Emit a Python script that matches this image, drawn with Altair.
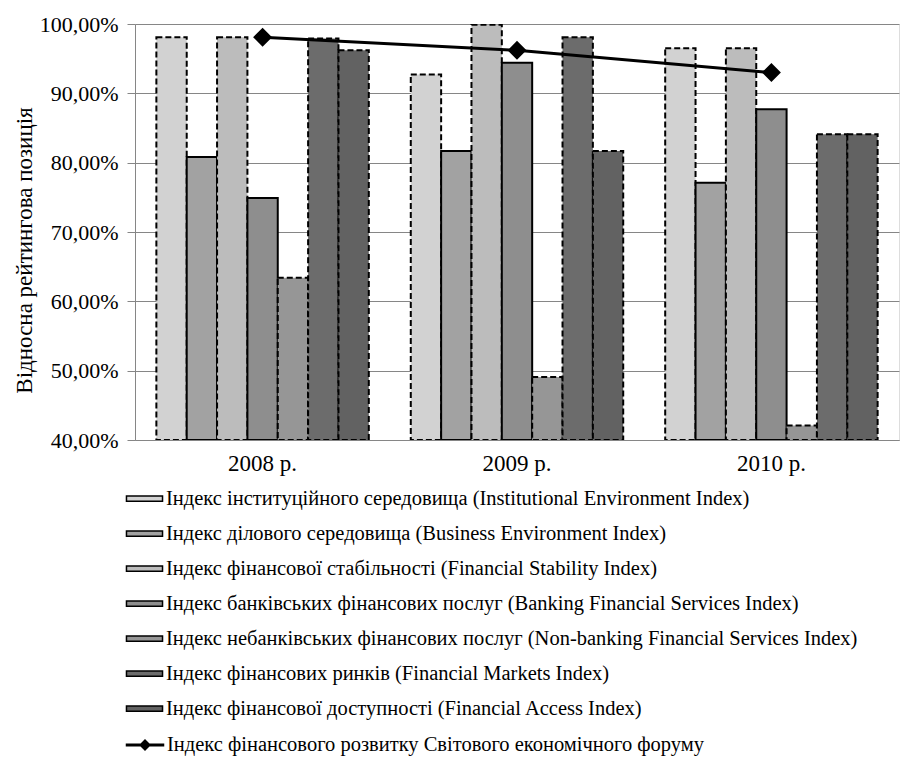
import altair as alt
import pandas as pd

years = ["2008 р.", "2009 р.", "2010 р."]
series = [
    "Індекс інституційного середовища (Institutional Environment Index)",
    "Індекс ділового середовища (Business Environment Index)",
    "Індекс фінансової стабільності (Financial Stability Index)",
    "Індекс банківських фінансових послуг (Banking Financial Services Index)",
    "Індекс небанківських фінансових послуг (Non-banking Financial Services Index)",
    "Індекс фінансових ринків (Financial Markets Index)",
    "Індекс фінансової доступності (Financial Access Index)",
]
inst = [0.981, 0.927, 0.965]
business = [0.808, 0.817, 0.771]
stability = [0.981, 0.999, 0.965]
banking = [0.749, 0.944, 0.877]
nonbanking = [0.634, 0.491, 0.421]
markets = [0.979, 0.981, 0.841]
access = [0.962, 0.817, 0.841]
line_name = "Індекс фінансового розвитку Світового економічного форуму"
wef = [0.981, 0.962, 0.930]

fills = ["#d2d2d2", "#a2a2a2", "#bcbcbc", "#8e8e8e", "#969696", "#6c6c6c", "#626262"]
dashes = [[6, 3], [1, 0], [6, 3], [1, 0], [6, 3], [6, 3], [6, 3]]

vals = [inst, business, stability, banking, nonbanking, markets, access]
rows = []
for s, v in zip(series, vals):
    for y, val in zip(years, v):
        rows.append({"year": y, "series": s, "value": val})
bar_df = pd.DataFrame(rows)
line_df = pd.DataFrame({"year": years, "value": wef, "name": [line_name] * 3})

FONT = "Liberation Serif"

x_enc = alt.X("year:N", sort=years, title=None,
              scale=alt.Scale(paddingInner=0.165, paddingOuter=0.084),
              axis=alt.Axis(labelAngle=0, labelFont=FONT, labelFontSize=23, labelColor="black",
                            labelPadding=12, ticks=False, domainColor="#868686", grid=False))
y_enc = alt.Y("value:Q", scale=alt.Scale(domain=[0.4, 1.0], zero=False, nice=False),
              title="Відносна рейтингова позиція",
              axis=alt.Axis(values=[0.4, 0.5, 0.6, 0.7, 0.8, 0.9, 1.0],
                            labelExpr="replace(format(datum.value, '.2%'), '.', ',')",
                            labelFont=FONT, labelFontSize=22, labelColor="black", labelPadding=9,
                            tickSize=8, tickColor="#868686", domainColor="#868686",
                            gridColor="#868686", gridWidth=1,
                            titleFont=FONT, titleFontSize=23, titleFontWeight="normal",
                            titleColor="black", titlePadding=3, titleY=226))

bar_symbol = "M-1.03,-0.15H1.03V0.15H-1.03Z"
line_symbol = "M-1.1,0H-0.2M0.2,0H1.1M-0.22,0L0,-0.22L0.22,0L0,0.22Z"

bars = alt.Chart(bar_df).mark_bar(stroke="black", strokeWidth=2, clip=True).encode(
    x=x_enc,
    xOffset=alt.XOffset("series:N", sort=series, scale=alt.Scale(paddingInner=0, paddingOuter=0)),
    y=y_enc,
    y2=alt.Y2Datum(0.4),
    fill=alt.Fill("series:N", sort=series,
                  scale=alt.Scale(domain=series, range=fills),
                  legend=alt.Legend(orient="none", legendX=-9, legendY=456, direction="vertical",
                                    title=None, symbolType=bar_symbol, symbolSize=1225,
                                    symbolStrokeColor="black", symbolStrokeWidth=1.5,
                                    labelFont=FONT, labelFontSize=20.5, labelColor="black",
                                    labelOffset=3, rowPadding=6, padding=0, labelLimit=900)),
    strokeDash=alt.StrokeDash("series:N", sort=series,
                              scale=alt.Scale(domain=series, range=dashes), legend=None),
)

line = alt.Chart(line_df).mark_line(strokeWidth=3).encode(
    x=alt.X("year:N", sort=years),
    y=alt.Y("value:Q"),
    stroke=alt.Stroke("name:N", scale=alt.Scale(range=["black"]),
                      legend=alt.Legend(orient="none", legendX=-9, legendY=702, title=None,
                                        symbolType=line_symbol, symbolSize=1225,
                                        symbolFillColor="black", symbolStrokeWidth=3,
                                        labelFont=FONT, labelFontSize=20.5, labelColor="black",
                                        labelOffset=3, padding=0, labelLimit=900)),
)
points = alt.Chart(line_df).mark_point(shape="diamond", size=260, filled=True,
                                       fill="black", stroke="black", opacity=1).encode(
    x=alt.X("year:N", sort=years),
    y=alt.Y("value:Q"),
)

chart = alt.layer(bars, line, points).resolve_scale(fill="independent").properties(
    width=764, height=416
).configure_view(stroke=None).configure(background="white")

chart.save("out.html", embed_options={"renderer": "svg", "actions": False})
